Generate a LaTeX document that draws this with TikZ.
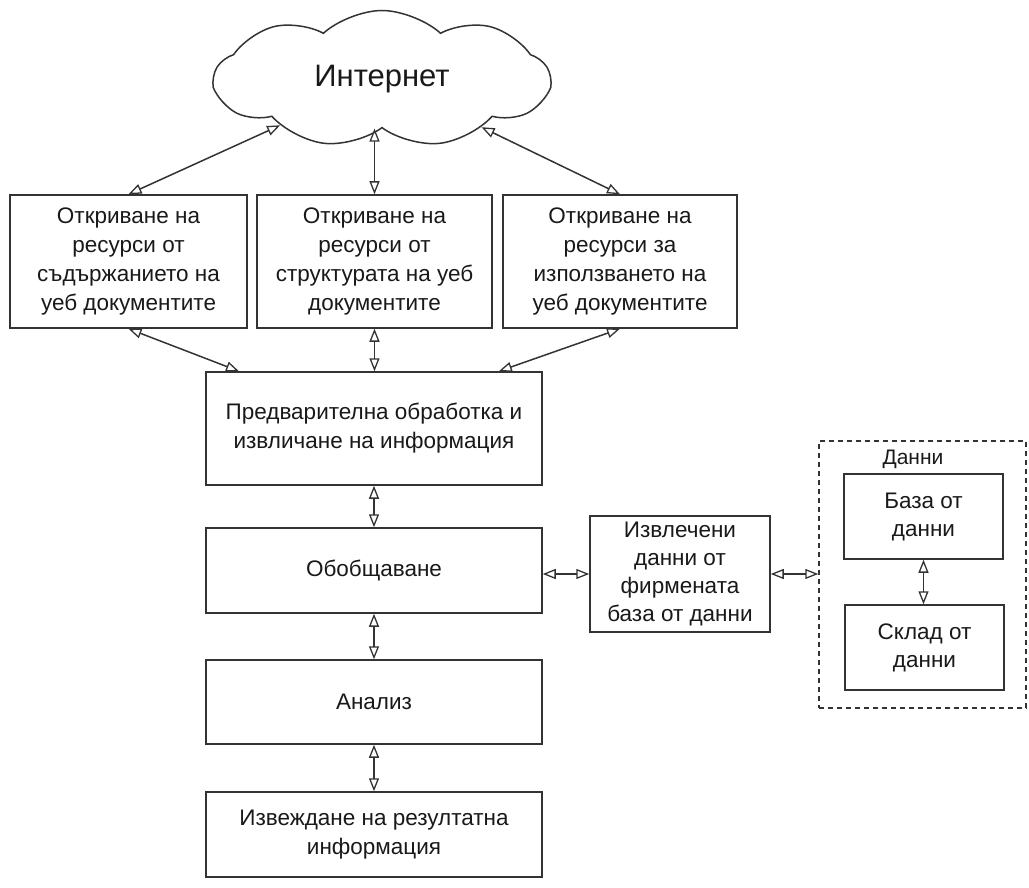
\documentclass[tikz,border=0pt]{standalone}
\usepackage{fontspec}
\setmainfont{Liberation Sans}
\usetikzlibrary{arrows.meta,shapes.symbols,calc}
\begin{document}
\begin{tikzpicture}[x=1pt,y=-1pt,
 box/.style={draw=black!80, line width=1.5pt, fill=white, inner sep=0pt, align=center, font=\fontsize{22.5}{29}\selectfont, text=black!90},
 tip/.tip={Triangle[open,length=13pt,width=10pt,line width=1.3pt]},
 conn/.style={draw=black!80, line width=1.5pt, tip-tip}]
\useasboundingbox (0,0) rectangle (1029,888);
\node[draw=black!80, line width=1.5pt, cloud, cloud puffs=9, cloud puff arc=85, aspect=2.5, minimum width=335pt, minimum height=137pt, inner sep=0pt, font=\fontsize{31}{34}\selectfont, text=black!90] (cloud) at (382,79) {Интернет};
\node[box, minimum width=237pt, minimum height=133pt] (b1) at (128.5,261.5) {Откриване на\\ресурси от\\съдържанието на\\уеб документите};
\node[box, minimum width=235pt, minimum height=133pt] (b2) at (374.5,261.5) {Откриване на\\ресурси от\\структурата на уеб\\документите};
\node[box, minimum width=234pt, minimum height=133pt] (b3) at (620,261.5) {Откриване на\\ресурси за\\използването на\\уеб документите};
\node[box, minimum width=336pt, minimum height=113pt] (pre) at (374,428.5) {Предварителна обработка и\\извличане на информация};
\node[box, minimum width=336pt, minimum height=85pt] (obo) at (374,570.5) {Обобщаване};
\node[box, minimum width=336pt, minimum height=84pt] (ana) at (374,702) {Анализ};
\node[box, minimum width=336pt, minimum height=85pt] (izv) at (374,834.5) {Извеждане на резултатна\\информация};
\node[box, minimum width=180pt, minimum height=116pt, font=\fontsize{22.5}{28}\selectfont] (ext) at (680,574) {Извлечени\\данни от\\фирмената\\база от данни};
\node[draw=black!80, line width=1.5pt, dash pattern=on 5pt off 4pt, minimum width=207pt, minimum height=267pt, inner sep=0pt] (dat) at (922.5,574.5) {};
\node[font=\fontsize{21}{24}\selectfont, text=black!90] (datl) at (913,459) {Данни};
\node[box, minimum width=159pt, minimum height=85pt, font=\fontsize{22.5}{28}\selectfont] (baza) at (923.5,516.5) {База от\\данни};
\node[box, minimum width=159pt, minimum height=85pt, font=\fontsize{22.5}{28}\selectfont] (skl) at (924.5,647.5) {Склад от\\данни};
\draw[conn] (cloud) -- (b1.north);
\draw[conn] (b2.north |- cloud.south) -- (b2.north);
\draw[conn] (cloud) -- (b3.north);
\draw[conn] (b1.south) -- ($(pre.north west)!0.1!(pre.north east)$);
\draw[conn] (b2.south) -- (b2.south |- pre.north);
\draw[conn] (b3.south) -- ($(pre.north west)!0.87!(pre.north east)$);
\draw[conn] (pre.south) -- (obo.north);
\draw[conn] (obo.south) -- (ana.north);
\draw[conn] (ana.south) -- (izv.north);
\draw[conn] (obo.east |- ext.west) -- (ext.west);
\draw[conn] (ext.east) -- (dat.west |- ext.east);
\draw[conn] (baza.south) -- (baza.south |- skl.north);
\end{tikzpicture}
\end{document}
